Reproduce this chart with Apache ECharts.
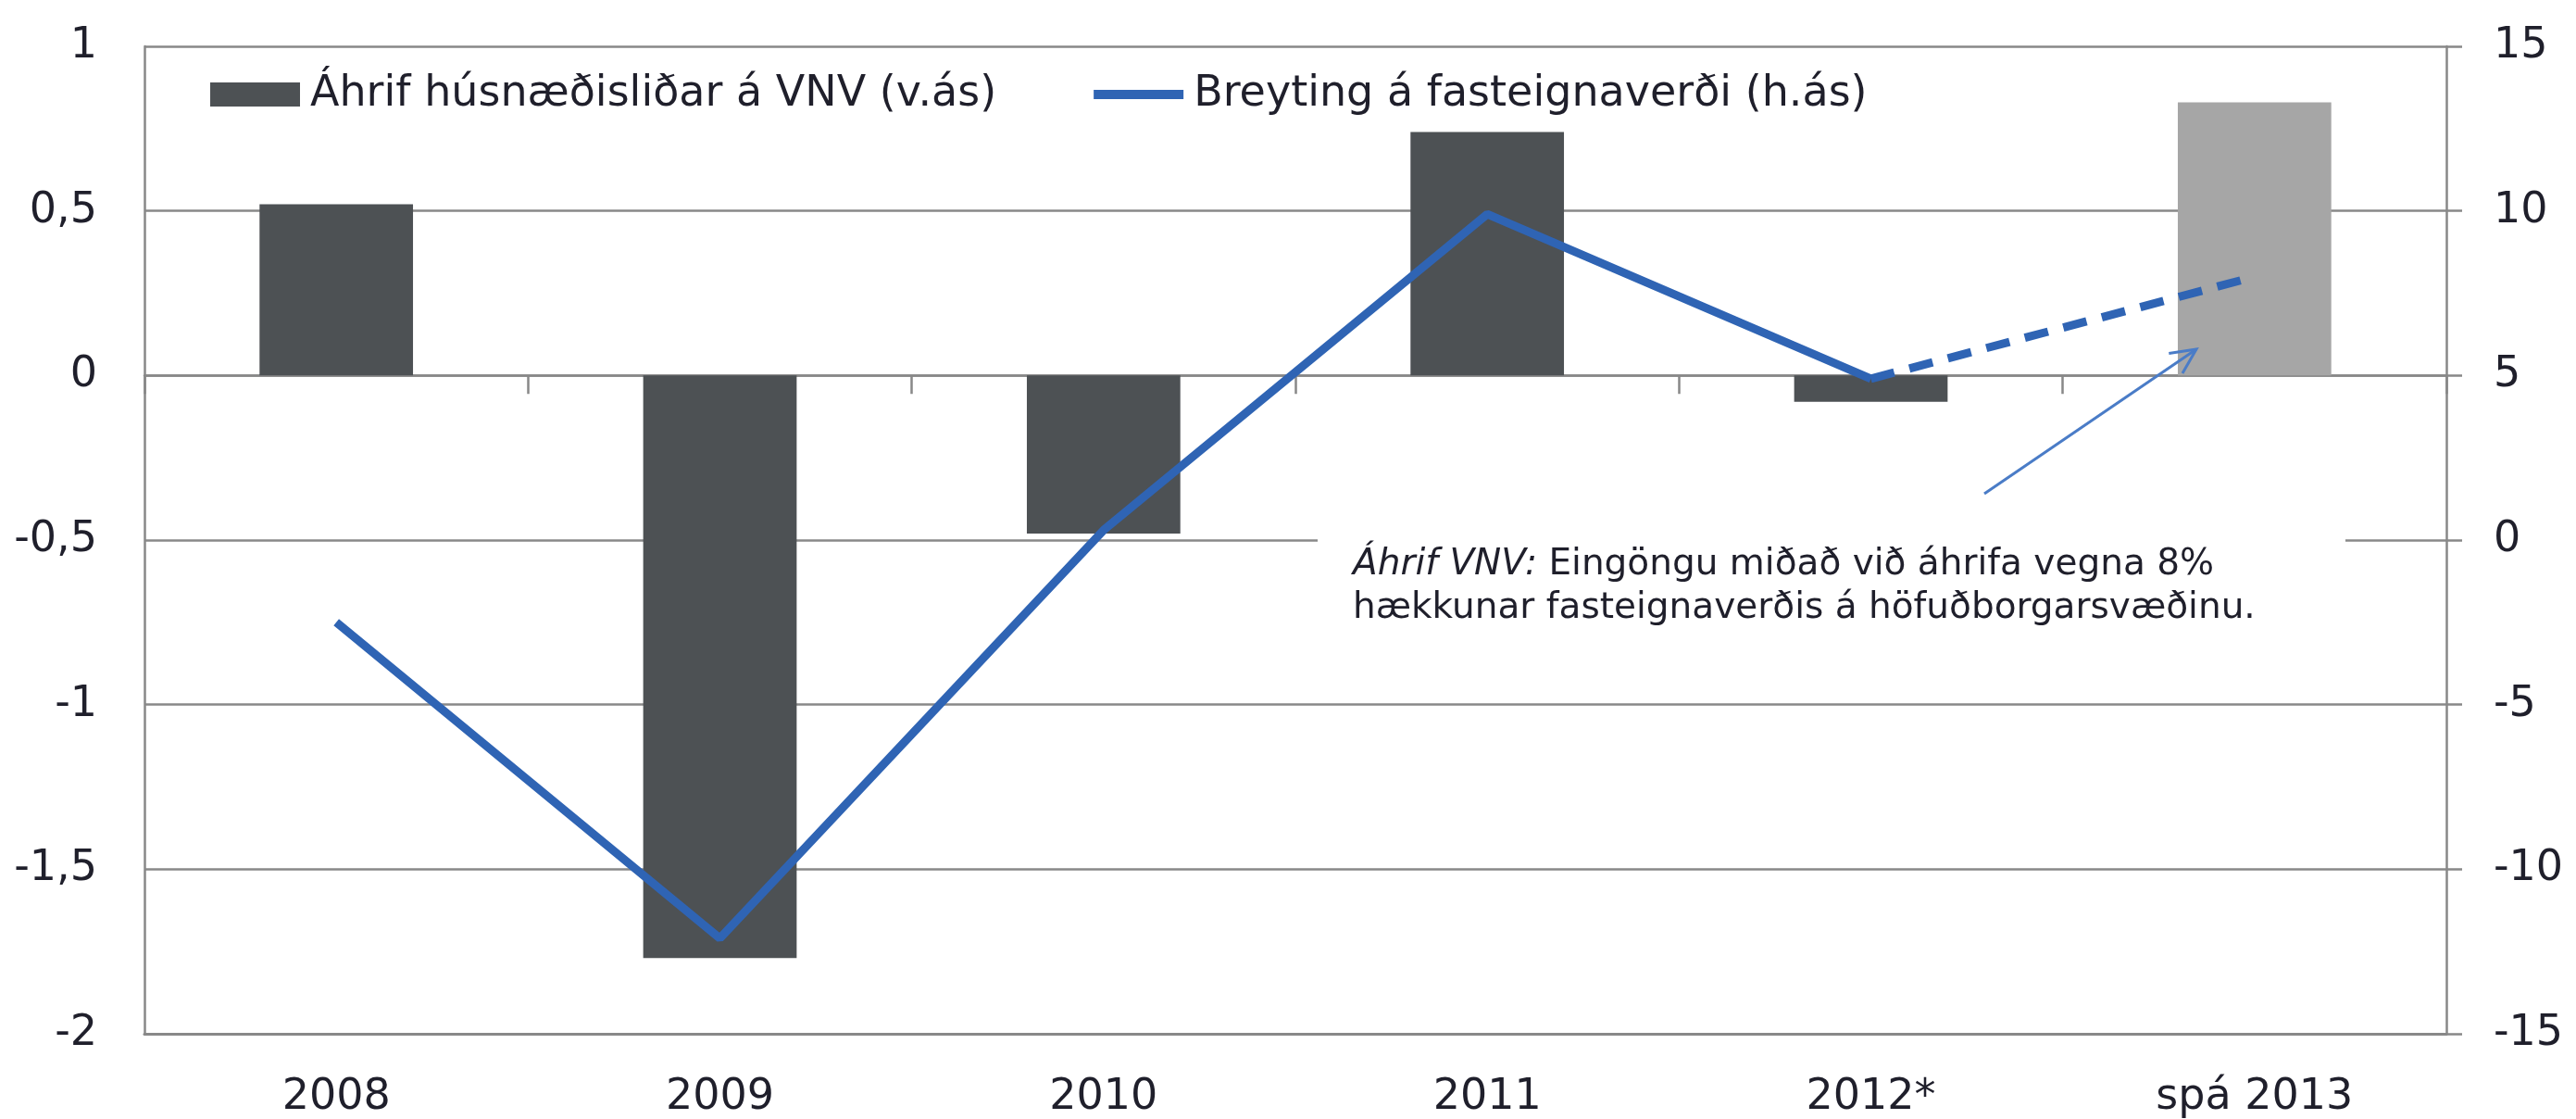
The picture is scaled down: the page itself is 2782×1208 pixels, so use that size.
<!DOCTYPE html>
<html>
<head>
<meta charset="utf-8">
<script src="https://cdn.jsdelivr.net/npm/echarts@6/dist/echarts.min.js"></script>
<style>
  html, body { margin: 0; padding: 0; background: #fff; }
  #chart { width: 2782px; height: 1208px; }
</style>
</head>
<body>
<div id="chart"></div>
<script>
const categories = ["2008", "2009", "2010", "2011", "2012*", "spá 2013"];
const housingEffect = [0.52, -1.77, -0.48, 0.74, -0.08, 0.83];
const priceChange = [-2.5, -12.1, 0.3, 9.9, 4.9, "-"];
const priceForecast = ["-", "-", "-", "-", 4.9, 8];

const barName = "Áhrif húsnæðisliðar á VNV (v.ás)";
const lineName = "Breyting á fasteignaverði (h.ás)";

const textColor = "#1f1f2b";
const gridColor = "#888888";
const barColor = "#4d5154";
const forecastBarColor = "#a6a6a6";
const lineColor = "#2f64b4";
const font = "DejaVu Sans";

const chart = echarts.init(document.getElementById("chart"), null, { renderer: "canvas" });

// annotation arrow (head points at forecast bar)
const tail = [2143, 533];
const tip = [2372, 377];
const dx = tail[0] - tip[0], dy = tail[1] - tip[1];
const len = Math.sqrt(dx * dx + dy * dy);
const ux = dx / len, uy = dy / len;
const wing = 30, ang = Math.PI / 7;
function rot(a) {
  return [tip[0] + wing * (ux * Math.cos(a) - uy * Math.sin(a)),
          tip[1] + wing * (ux * Math.sin(a) + uy * Math.cos(a))];
}

const option = {
  animation: false,
  backgroundColor: "#fff",
  textStyle: { fontFamily: font },
  grid: { left: 156, right: 140, top: 50, bottom: 90 },
  legend: {
    left: 222,
    top: 74,
    itemWidth: 97,
    itemHeight: 26,
    itemGap: 100,
    textStyle: { fontFamily: font, fontSize: 46, color: textColor, padding: [0, 0, 0, 6] },
    data: [
      { name: barName, icon: "rect" },
      { name: lineName, itemStyle: { opacity: 0 }, lineStyle: { width: 10, color: lineColor } },
    ],
  },
  xAxis: [
    {
      type: "category",
      data: categories,
      position: "bottom",
      axisLine: { onZero: false, lineStyle: { color: gridColor, width: 3 } },
      axisTick: { show: false },
      axisLabel: { fontFamily: font, fontSize: 46, color: textColor, margin: 46 },
    },
    {
      type: "category",
      data: categories,
      position: "bottom",
      axisLine: { onZero: true, onZeroAxisIndex: 0, lineStyle: { color: gridColor, width: 2.5 } },
      axisTick: { show: true, length: 20, lineStyle: { color: gridColor, width: 2.5 } },
      axisLabel: { show: false },
    },
  ],
  yAxis: [
    {
      type: "value",
      min: -2,
      max: 1,
      interval: 0.5,
      axisLine: { show: true, lineStyle: { color: gridColor, width: 2.5 } },
      axisTick: { show: false },
      splitLine: { show: true, lineStyle: { color: gridColor, width: 2.5 } },
      axisLabel: {
        fontFamily: font,
        fontSize: 46,
        color: textColor,
        margin: 51,
        formatter: (v) => String(v).replace(".", ","),
      },
    },
    {
      type: "value",
      position: "right",
      min: -15,
      max: 15,
      interval: 5,
      axisLine: { show: true, lineStyle: { color: gridColor, width: 2.5 } },
      axisTick: { show: true, length: 17, lineStyle: { color: gridColor, width: 2.5 } },
      splitLine: { show: false },
      axisLabel: { fontFamily: font, fontSize: 46, color: textColor, margin: 51 },
    },
  ],
  series: [
    {
      name: barName,
      type: "bar",
      xAxisIndex: 0,
      yAxisIndex: 0,
      barWidth: "40%",
      itemStyle: { color: barColor },
      data: housingEffect.map((v, i) =>
        i === categories.length - 1 ? { value: v, itemStyle: { color: forecastBarColor } } : v
      ),
      z: 2,
    },
    {
      name: lineName,
      type: "line",
      xAxisIndex: 0,
      yAxisIndex: 1,
      symbol: "none",
      lineStyle: { color: lineColor, width: 9 },
      itemStyle: { color: lineColor },
      data: priceChange,
      z: 4,
    },
    {
      name: "forecast",
      type: "line",
      xAxisIndex: 0,
      yAxisIndex: 1,
      symbol: "none",
      lineStyle: { color: lineColor, width: 9, type: [26, 17] },
      data: priceForecast,
      z: 4,
    },
  ],
  graphic: [
    {
      type: "rect",
      z: 50,
      shape: { x: 1423, y: 565, width: 1110, height: 130 },
      style: { fill: "#fff" },
    },
    {
      type: "text",
      z: 51,
      left: 1461,
      top: 586,
      style: {
        text: "{i|Áhrif VNV:} Eingöngu miðað við áhrifa vegna 8%\nhækkunar fasteignaverðis á höfuðborgarsvæðinu.",
        font: "39px DejaVu Sans",
        fill: textColor,
        lineHeight: 47,
        rich: {
          i: { fontStyle: "italic", fontFamily: font, fontSize: 39, fill: textColor, lineHeight: 47 },
        },
      },
    },
    {
      type: "line",
      z: 51,
      shape: { x1: tail[0], y1: tail[1], x2: tip[0], y2: tip[1] },
      style: { stroke: "#4a7cc7", lineWidth: 3 },
    },
    {
      type: "polyline",
      z: 51,
      shape: { points: [rot(ang), tip, rot(-ang)] },
      style: { stroke: "#4a7cc7", lineWidth: 3, fill: null },
    },
  ],
};

chart.setOption(option);
window.addEventListener("resize", chart.resize);
</script>
</body>
</html>
